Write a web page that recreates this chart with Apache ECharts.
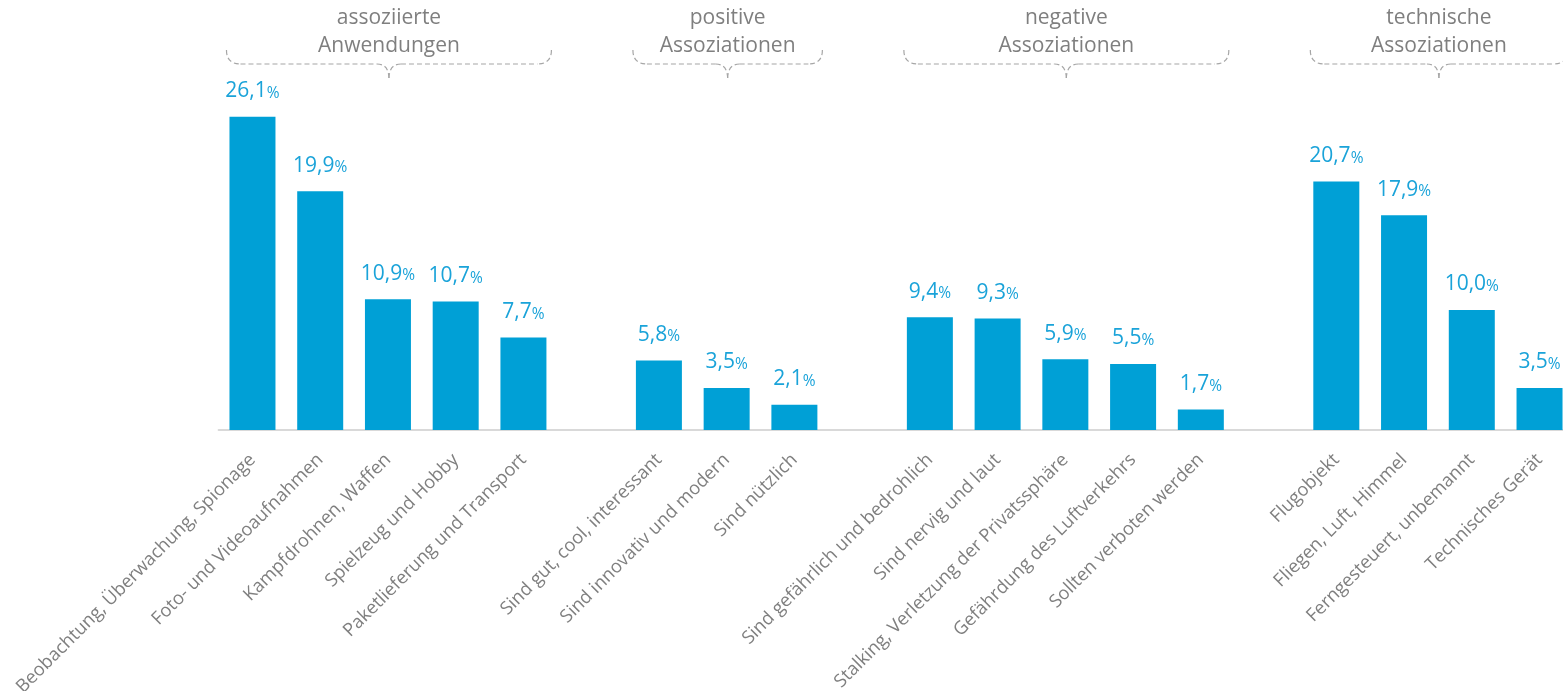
<!DOCTYPE html>
<html>
<head>
<meta charset="utf-8">
<script src="https://cdn.jsdelivr.net/npm/echarts@6/dist/echarts.min.js"></script>
<style>
  html, body { margin: 0; padding: 0; background: #fff; }
  #main { width: 1563px; height: 691px; }
</style>
</head>
<body>
<div id="main"></div>
<script>
// Kategorien (leere Einträge = Abstand zwischen den Gruppen)
const categories = [
  'Beobachtung, Überwachung, Spionage', 'Foto- und Videoaufnahmen', 'Kampfdrohnen, Waffen',
  'Spielzeug und Hobby', 'Paketlieferung und Transport', '',
  'Sind gut, cool, interessant', 'Sind innovativ und modern', 'Sind nützlich', '',
  'Sind gefährlich und bedrohlich', 'Sind nervig und laut', 'Stalking, Verletzung der Privatssphäre',
  'Gefährdung des Luftverkehrs', 'Sollten verboten werden', '',
  'Flugobjekt', 'Fliegen, Luft, Himmel', 'Ferngesteuert, unbemannt', 'Technisches Gerät'
];
const values = [
  26.1, 19.9, 10.9, 10.7, 7.7, '-',
  5.8, 3.5, 2.1, '-',
  9.4, 9.3, 5.9, 5.5, 1.7, '-',
  20.7, 17.9, 10.0, 3.5
];
const groupTitles = ['assoziierte\nAnwendungen', 'positive\nAssoziationen', 'negative\nAssoziationen', 'technische\nAssoziationen'];
const groupRanges = [[0, 4], [6, 8], [10, 14], [16, 19]];

const BLUE = '#00a0d6';
const GREY = '#7f7f7f';
const FONT = '"Open Sans", sans-serif';
const BAR_W = 46;

const chart = echarts.init(document.getElementById('main'));

const option = {
  backgroundColor: '#ffffff',
  animation: false,
  grid: { left: 218.6, width: 1354.8, top: 70, bottom: 261, outerBoundsMode: 'none', containLabel: false },
  xAxis: {
    type: 'category',
    data: categories,
    axisLine: { lineStyle: { color: '#d9d9d9', width: 2 } },
    axisTick: { show: false },
    axisLabel: {
      interval: 0,
      rotate: 45,
      margin: 27,
      color: GREY,
      fontFamily: FONT,
      fontSize: 18.3
    }
  },
  yAxis: {
    type: 'value',
    min: 0,
    max: 30,
    show: false,
    splitLine: { show: false }
  },
  series: [{
    type: 'bar',
    data: values,
    barWidth: BAR_W,
    itemStyle: { color: BLUE },
    label: {
      show: true,
      position: 'top',
      distance: 15,
      formatter: p => '{v|' + p.value.toFixed(1).replace('.', ',') + '}{p|%}',
      rich: {
        v: { color: '#1aa3d9', fontFamily: FONT, fontSize: 21 },
        p: { color: '#1aa3d9', fontFamily: FONT, fontSize: 15.5, padding: [4, 0, 0, 0] }
      }
    }
  }]
};
chart.setOption(option);

// Geschweifte Klammern und Gruppentitel
const dash = { stroke: '#a6a6a6', lineWidth: 1.2, lineDash: [5, 3], fill: null };
const graphics = [];
groupRanges.forEach((r, i) => {
  const x0 = chart.convertToPixel({ xAxisIndex: 0 }, r[0]) - BAR_W / 2 - 3;
  const x1 = chart.convertToPixel({ xAxisIndex: 0 }, r[1]) + BAR_W / 2 + 5;
  const xc = (x0 + x1) / 2;
  const yTop = 50, yMid = 64, yTip = 79;
  // Ecken und Spitze als Bezierkurven, Geraden dazwischen
  const curves = [
    [x0, yTop, x0 + 14, yMid, x0, yMid],
    [xc - 12, yMid, xc, yTip, xc, yMid],
    [xc + 12, yMid, xc, yTip, xc, yMid],
    [x1, yTop, x1 - 14, yMid, x1, yMid]
  ];
  curves.forEach(c => graphics.push({
    type: 'bezierCurve',
    shape: { x1: c[0], y1: c[1], x2: c[2], y2: c[3], cpx1: c[4], cpy1: c[5] },
    style: dash,
    silent: true
  }));
  graphics.push({
    type: 'line', shape: { x1: x0 + 14, y1: yMid, x2: xc - 12, y2: yMid }, style: dash, silent: true
  });
  graphics.push({
    type: 'line', shape: { x1: xc + 12, y1: yMid, x2: x1 - 14, y2: yMid }, style: dash, silent: true
  });
  graphics.push({
    type: 'text',
    x: xc,
    y: 4,
    style: {
      text: groupTitles[i],
      fill: GREY,
      font: '21px ' + FONT,
      lineHeight: 28,
      align: 'center',
      verticalAlign: 'top'
    },
    silent: true
  });
});
chart.setOption({ graphic: graphics });
</script>
</body>
</html>
